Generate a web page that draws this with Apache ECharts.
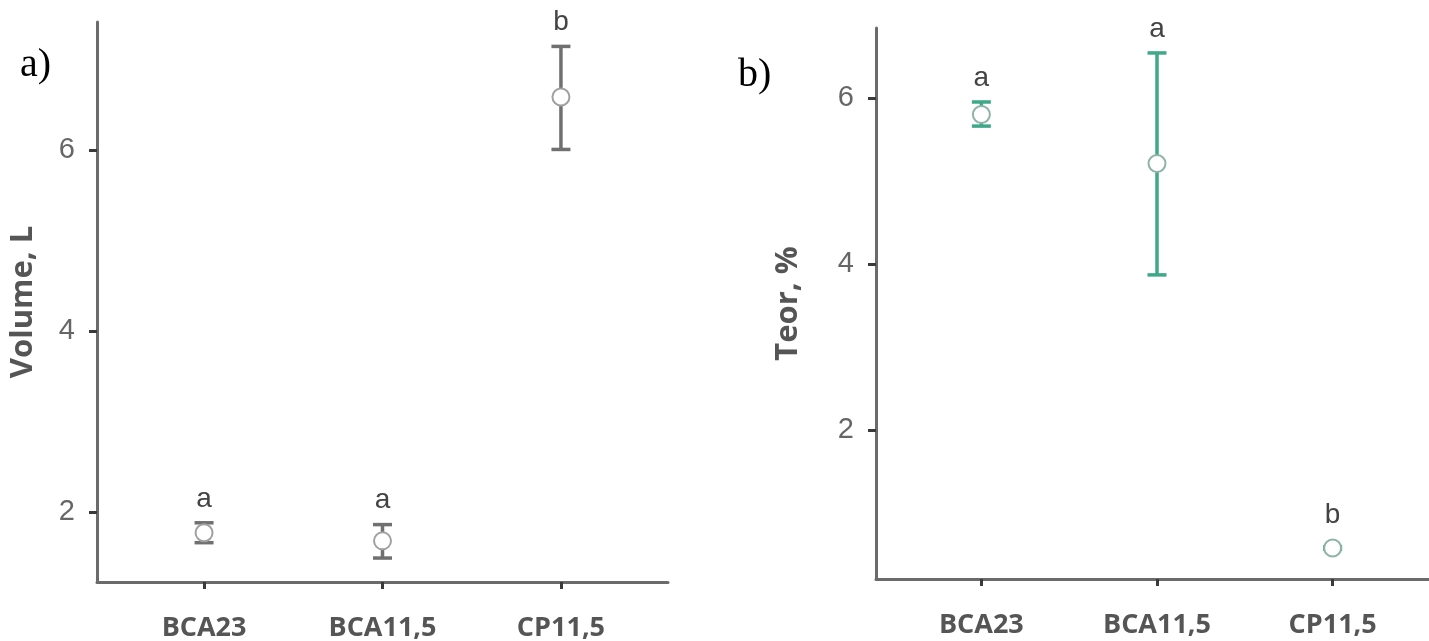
<!DOCTYPE html>
<html><head><meta charset="utf-8">
<script src="https://cdn.jsdelivr.net/npm/echarts@6/dist/echarts.min.js"></script>
<style>html,body{margin:0;padding:0;background:#fff}#c{width:1429px;height:641px}</style>
</head><body><div id="c"></div>
<script>
const categories = ['BCA23', 'BCA11,5', 'CP11,5'];
const volumeMean = [1.77, 1.68, 6.59];
const volumeLow = [1.66, 1.49, 6.01];
const volumeHigh = [1.88, 1.86, 7.15];
const volumeLetters = ['a', 'a', 'b'];
const teorMean = [5.80, 5.21, 0.585];
const teorLow = [5.66, 3.87, 0.57];
const teorHigh = [5.95, 6.54, 0.60];
const teorLetters = ['a', 'a', 'b'];
const volumeTicks = [2, 4, 6];
const teorTicks = [2, 4, 6];
const catTicks = [0, 1, 2];

function makeRender(lineColor, circleColor, letters) {
  return function (params, api) {
    const i = api.value(0);
    const c = api.coord([i, api.value(1)]);
    const lo = api.coord([i, api.value(2)]);
    const hi = api.coord([i, api.value(3)]);
    const hw = 9.5, r = 8.5, lw = 3.5;
    const top = Math.min(hi[1], c[1] - r);
    return {
      type: 'group',
      children: [
        { type: 'line', shape: { x1: c[0], y1: lo[1], x2: c[0], y2: hi[1] }, style: { stroke: lineColor, lineWidth: lw } },
        { type: 'line', shape: { x1: c[0] - hw, y1: hi[1], x2: c[0] + hw, y2: hi[1] }, style: { stroke: lineColor, lineWidth: lw } },
        { type: 'line', shape: { x1: c[0] - hw, y1: lo[1], x2: c[0] + hw, y2: lo[1] }, style: { stroke: lineColor, lineWidth: lw } },
        { type: 'circle', shape: { cx: c[0], cy: c[1], r: r }, style: { fill: '#fff', stroke: circleColor, lineWidth: 2 } },
        { type: 'text', x: c[0], y: top - 10, style: { text: letters[params.dataIndex], align: 'center', verticalAlign: 'bottom', fill: '#444', font: '28px "Liberation Sans", Arial, sans-serif' } }
      ]
    };
  };
}

function xAxisFor(gridIndex) {
  return {
    type: 'value', gridIndex: gridIndex, min: -0.6, max: 2.6,
    splitLine: { show: false },
    axisLine: { show: true, onZero: false, lineStyle: { color: '#6b6b6b', width: 3 } },
    axisTick: { show: true, customValues: catTicks, length: 7, lineStyle: { color: '#3a3a3a', width: 3 } },
    axisLabel: {
      customValues: catTicks, margin: 33,
      formatter: v => categories[Math.round(v)],
      color: '#555', fontFamily: '"Open Sans", sans-serif', fontWeight: 'bold', fontSize: 27
    }
  };
}
function yAxisFor(gridIndex, min, max, ticks, name, gap) {
  return {
    type: 'value', gridIndex: gridIndex, min: min, max: max,
    splitLine: { show: false },
    axisLine: { show: true, onZero: false, lineStyle: { color: '#6b6b6b', width: 3 } },
    axisTick: { show: true, customValues: ticks, length: 8, lineStyle: { color: '#3a3a3a', width: 3 } },
    axisLabel: { customValues: ticks, margin: 22, color: '#666', fontFamily: '"Liberation Sans", Arial, sans-serif', fontSize: 29 },
    name: name, nameLocation: 'middle', nameGap: gap,
    nameTextStyle: { color: '#555', fontFamily: '"Open Sans", sans-serif', fontWeight: 'bold', fontSize: 31 }
  };
}

const chart = echarts.init(document.getElementById('c'));
chart.setOption({
  backgroundColor: '#fff',
  animation: false,
  grid: [
    { left: 97, top: 22, width: 571, height: 560, containLabel: false, outerBoundsMode: 'none' },
    { left: 876, top: 28, width: 562, height: 551, containLabel: false, outerBoundsMode: 'none' }
  ],
  xAxis: [xAxisFor(0), xAxisFor(1)],
  yAxis: [
    yAxisFor(0, 1.225, 7.42, volumeTicks, 'Volume, L', 58),
    yAxisFor(1, 0.212, 6.84, teorTicks, 'Teor, %', 72)
  ],
  graphic: [
    { type: 'text', left: 20, top: 45, style: { text: 'a)', fill: '#000', font: '40px "Liberation Serif", "Times New Roman", serif' } },
    { type: 'text', left: 738, top: 55, style: { text: 'b)', fill: '#000', font: '40px "Liberation Serif", "Times New Roman", serif' } }
  ],
  series: [
    {
      type: 'custom', xAxisIndex: 0, yAxisIndex: 0, clip: false,
      renderItem: makeRender('#707070', '#a0a0a0', volumeLetters),
      data: categories.map((_, i) => [i, volumeMean[i], volumeLow[i], volumeHigh[i]])
    },
    {
      type: 'custom', xAxisIndex: 1, yAxisIndex: 1, clip: false,
      renderItem: makeRender('#3ea888', '#8fb3a7', teorLetters),
      data: categories.map((_, i) => [i, teorMean[i], teorLow[i], teorHigh[i]])
    }
  ]
});
</script>
</body></html>
